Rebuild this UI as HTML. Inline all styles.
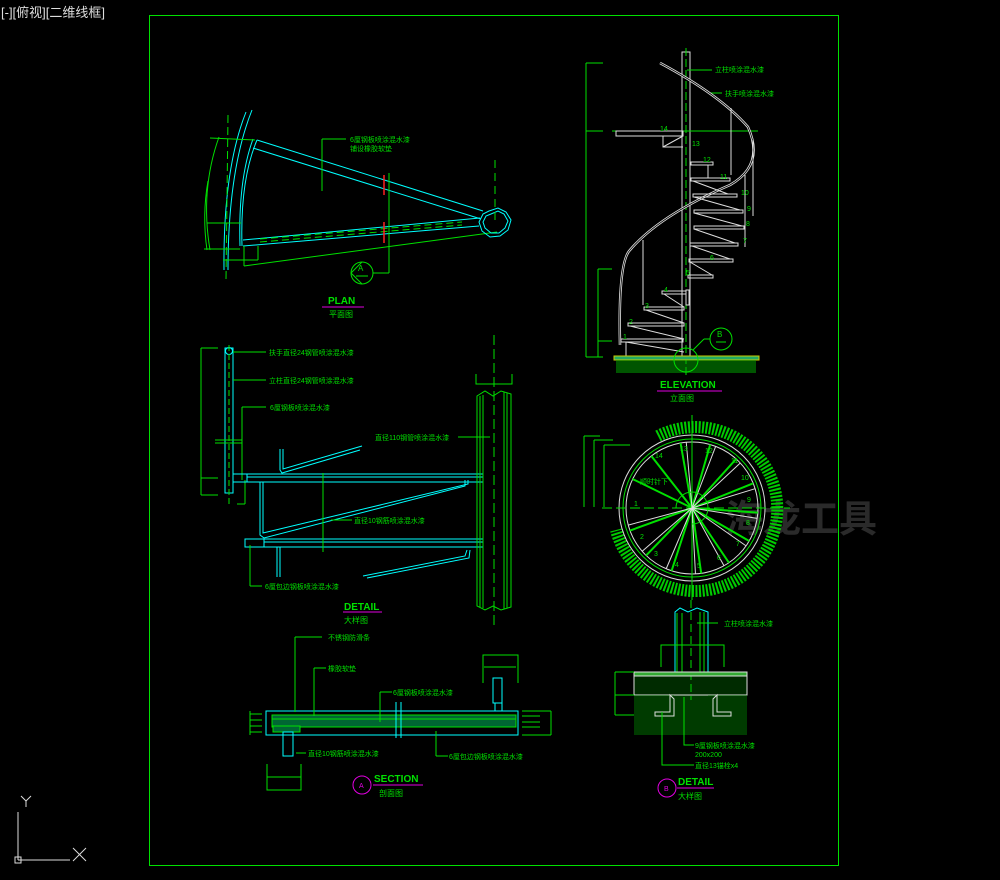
<!DOCTYPE html>
<html><head><meta charset="utf-8"><style>
html,body{margin:0;padding:0;background:#000;width:1000px;height:880px;overflow:hidden}
svg{display:block}
text{font-family:"Liberation Sans","Noto Sans CJK SC",sans-serif}
</style></head><body>
<svg width="1000" height="880" viewBox="0 0 1000 880" xmlns="http://www.w3.org/2000/svg">
<rect width="1000" height="880" fill="#000"/>
<text x="1" y="17" fill="#ddd" font-size="13">[-][俯视][二维线框]</text>
<rect x="149.5" y="15.5" width="689" height="850" fill="none" stroke="#00e000" stroke-width="1"/>
<!-- watermark -->
<text x="725" y="532" fill="#2a2a2a" font-size="38" font-weight="bold">海龙工具</text>

<!-- UCS icon -->
<g stroke="#ddd" stroke-width="1" fill="none">
<line x1="18" y1="812" x2="18" y2="860"/><line x1="18" y1="860" x2="70" y2="860"/>
<rect x="15" y="857" width="6" height="6"/>
<line x1="73" y1="848" x2="86" y2="861"/><line x1="86" y1="848" x2="73" y2="861"/>
<line x1="21" y1="796" x2="26" y2="801"/><line x1="31" y1="796" x2="26" y2="801"/><line x1="26" y1="801" x2="26" y2="807"/>
</g>

<!-- ============ PLAN ============ -->
<g fill="none" stroke-width="1">
<path d="M208,181 Q202,215 207,250" stroke="#00e000"/>
<path d="M219,137 Q200,190 210,250" stroke="#00e000"/>
<path d="M252,110 Q228,170 228,270" stroke="#00ffff"/>
<path d="M246,112 Q223,170 224,270" stroke="#00ffff"/>
<path d="M257,140 Q240,180 242,246" stroke="#00ffff"/>
<path d="M253,139 Q238,180 240,246" stroke="#00ffff"/>
<path d="M228,115 L226,280" stroke="#00e000" stroke-dasharray="8,4"/>
<line x1="257" y1="140" x2="483" y2="211" stroke="#00ffff"/>
<line x1="253" y1="148" x2="481" y2="219" stroke="#00ffff"/>
<line x1="243" y1="240" x2="480" y2="218" stroke="#00ffff"/>
<line x1="243" y1="246" x2="479" y2="226" stroke="#00ffff"/>
<line x1="260" y1="239" x2="462" y2="222" stroke="#00e000" stroke-dasharray="7,4"/>
<line x1="260" y1="242" x2="462" y2="225" stroke="#00e000" stroke-dasharray="7,4"/>
<line x1="204" y1="249" x2="240" y2="249" stroke="#00e000"/>
<line x1="207" y1="223" x2="241" y2="223" stroke="#00e000"/>
<line x1="207" y1="249" x2="226" y2="249" stroke="#00e000"/>
<line x1="244" y1="266" x2="497" y2="232" stroke="#00e000"/>
<line x1="244" y1="246" x2="244" y2="266" stroke="#00e000"/>
<line x1="223" y1="260" x2="258" y2="260" stroke="#00e000"/>
<line x1="258" y1="246" x2="258" y2="260" stroke="#00e000"/>
<line x1="210" y1="138" x2="255" y2="140" stroke="#00e000"/>
<polygon points="489,211 498,208 506,212 511,220 508,230 500,236 490,237 482,231 479,222 483,214" stroke="#00ffff"/>
<polygon points="491,214 498,211 504,214 508,221 505,228 499,233 491,233 485,228 483,222 486,216" stroke="#00ffff"/>
<line x1="495" y1="160" x2="495" y2="225" stroke="#00e000" stroke-dasharray="8,5"/>
<line x1="322" y1="139" x2="346" y2="139" stroke="#00e000"/>
<line x1="322" y1="139" x2="322" y2="191" stroke="#00e000"/>
<line x1="389" y1="173" x2="389" y2="273" stroke="#00e000"/>
<line x1="384" y1="175" x2="384" y2="195" stroke="#ff2020" stroke-width="1.5"/>
<line x1="384" y1="222" x2="384" y2="243" stroke="#ff2020" stroke-width="1.5"/>
<line x1="373" y1="273" x2="389" y2="273" stroke="#00e000"/>
<circle cx="362" cy="273" r="11" stroke="#00e000"/>
<path d="M351,273 L362,262 M351,273 L362,284" stroke="#00e000"/>
<line x1="356" y1="276" x2="368" y2="276" stroke="#00e000"/>
</g>
<text x="358" y="271" fill="#00e000" font-size="8">A</text>
<text x="350" y="142" fill="#00e000" font-size="7">6厘钢板喷涂混水漆</text>
<text x="350" y="151" fill="#00e000" font-size="7">铺设橡胶软垫</text>
<text x="328" y="304" fill="#00e000" font-size="10" font-weight="bold">PLAN</text>
<line x1="322" y1="307" x2="364" y2="307" stroke="#e000e0"/>
<text x="329" y="317" fill="#00e000" font-size="8">平面图</text>

<!-- ============ DETAIL (left) ============ -->
<g fill="none" stroke-width="1">
<line x1="201" y1="348" x2="201" y2="495" stroke="#00e000"/>
<line x1="201" y1="348" x2="218" y2="348" stroke="#00e000"/>
<line x1="201" y1="478" x2="218" y2="478" stroke="#00e000"/>
<line x1="201" y1="495" x2="218" y2="495" stroke="#00e000"/>
<rect x="225" y="348" width="8" height="145" stroke="#00ffff"/>
<circle cx="229" cy="351" r="3.5" stroke="#00ffff"/>
<line x1="229" y1="345" x2="229" y2="505" stroke="#00e000" stroke-dasharray="6,3"/>
<line x1="233" y1="352" x2="266" y2="352" stroke="#00e000"/>
<line x1="233" y1="380" x2="266" y2="380" stroke="#00e000"/>
<line x1="242" y1="407" x2="266" y2="407" stroke="#00e000"/>
<line x1="242" y1="407" x2="242" y2="480" stroke="#00e000"/>
<line x1="215" y1="440" x2="242" y2="440" stroke="#00e000"/>
<line x1="215" y1="443" x2="242" y2="443" stroke="#00e000"/>
<line x1="245" y1="480" x2="245" y2="504" stroke="#00e000"/>
<line x1="237" y1="504" x2="245" y2="504" stroke="#00e000"/>
<rect x="233" y="474" width="250" height="8" stroke="#00ffff"/>
<line x1="247" y1="474" x2="247" y2="482" stroke="#00ffff"/>
<line x1="247" y1="477" x2="483" y2="477" stroke="#00ffff"/>
<rect x="245" y="539" width="238" height="8" stroke="#00ffff"/>
<line x1="264" y1="539" x2="264" y2="547" stroke="#00ffff"/>
<line x1="264" y1="542" x2="483" y2="542" stroke="#00ffff"/>
<path d="M280,449 L280,470 L282,473 L360,450 M283,449 L283,469 L362,446" stroke="#00ffff"/>
<path d="M260,482 L260,535 L264,538 L465,486 L465,480 M263,482 L263,533 L468,484 L468,480" stroke="#00ffff"/>
<path d="M363,576 L465,556 L467,550 M367,578 L469,558 L470,550" stroke="#00ffff"/>
<path d="M277,547 L277,577 M280,547 L280,577" stroke="#00ffff"/>
<line x1="323" y1="473" x2="323" y2="552" stroke="#00e000"/>
<line x1="331" y1="520" x2="352" y2="520" stroke="#00e000"/>
<line x1="250" y1="545" x2="250" y2="586" stroke="#00e000"/>
<line x1="250" y1="586" x2="262" y2="586" stroke="#00e000"/>
<line x1="458" y1="437" x2="490" y2="437" stroke="#00e000"/>
<line x1="494" y1="335" x2="494" y2="625" stroke="#00e000" stroke-dasharray="10,4"/>
<path d="M476,374 L476,384 L512,384 L512,374" stroke="#00e000"/>
<path d="M477,396 L485,391 L493,396 L501,391 L511,394 L511,607 L501,610 L493,606 L485,610 L477,606 Z" stroke="#00e000"/>
<line x1="480" y1="396" x2="480" y2="607" stroke="#00e000"/>
<line x1="483" y1="395" x2="483" y2="608" stroke="#00e000"/>
<line x1="504" y1="392" x2="504" y2="609" stroke="#00e000"/>
<line x1="507" y1="393" x2="507" y2="608" stroke="#00e000"/>
</g>
<g fill="#00e000" font-size="7">
<text x="269" y="355">扶手直径24钢管喷涂混水漆</text>
<text x="269" y="383">立柱直径24钢管喷涂混水漆</text>
<text x="270" y="410">6厘钢板喷涂混水漆</text>
<text x="375" y="440">直径110钢管喷涂混水漆</text>
<text x="354" y="523">直径10钢筋喷涂混水漆</text>
<text x="265" y="589">6厘包边钢板喷涂混水漆</text>
</g>
<text x="344" y="610" fill="#00e000" font-size="10" font-weight="bold">DETAIL</text>
<line x1="343" y1="612" x2="382" y2="612" stroke="#e000e0"/>
<text x="344" y="623" fill="#00e000" font-size="8">大样图</text>

<!-- ============ SECTION ============ -->
<g fill="none" stroke-width="1">
<rect x="266" y="711" width="252" height="24" stroke="#00ffff"/>
<rect x="272" y="715" width="244" height="12" stroke="#00e000" fill="#063"/>
<rect x="272" y="719" width="244" height="8" stroke="#00e000"/>
<rect x="273" y="726" width="27" height="6" stroke="#00e000" fill="#063"/>
<rect x="283" y="732" width="10" height="24" stroke="#00ffff"/>
<rect x="493" y="678" width="9" height="25" stroke="#00ffff"/>
<rect x="495" y="703" width="7" height="8" stroke="#00ffff"/>
<line x1="396" y1="702" x2="396" y2="738" stroke="#00ffff"/>
<line x1="401" y1="702" x2="401" y2="738" stroke="#00ffff"/>
<path d="M250,711 L250,735 M250,714 L262,714 M250,720 L262,720 M250,726 L262,726 M250,732 L262,732" stroke="#00e000"/>
<path d="M551,711 L551,735 M522,711 L551,711 M522,716 L540,716 M522,722 L540,722 M522,727 L540,727 M522,735 L551,735" stroke="#00e000"/>
<path d="M267,764 L267,790 L301,790 L301,764 M267,777 L301,777" stroke="#00e000"/>
<path d="M483,683 L483,655 L518,655 L518,683 M484,667 L516,667" stroke="#00e000"/>
<line x1="295" y1="637" x2="295" y2="712" stroke="#00e000"/>
<line x1="295" y1="637" x2="322" y2="637" stroke="#00e000"/>
<line x1="314" y1="668" x2="314" y2="716" stroke="#00e000"/>
<line x1="314" y1="668" x2="326" y2="668" stroke="#00e000"/>
<line x1="380" y1="692" x2="380" y2="722" stroke="#00e000"/>
<line x1="380" y1="692" x2="392" y2="692" stroke="#00e000"/>
<line x1="296" y1="753" x2="306" y2="753" stroke="#00e000"/>
<line x1="436" y1="731" x2="436" y2="756" stroke="#00e000"/>
<line x1="436" y1="756" x2="448" y2="756" stroke="#00e000"/>
<circle cx="362" cy="785" r="9" stroke="#e000e0"/>
<line x1="373" y1="785" x2="423" y2="785" stroke="#e000e0"/>
</g>
<g fill="#00e000" font-size="7">
<text x="328" y="640">不锈钢防滑条</text>
<text x="328" y="671">橡胶软垫</text>
<text x="393" y="695">6厘钢板喷涂混水漆</text>
<text x="308" y="756">直径10钢筋喷涂混水漆</text>
<text x="449" y="759">6厘包边钢板喷涂混水漆</text>
</g>
<text x="359" y="788" fill="#e000e0" font-size="7">A</text>
<text x="374" y="782" fill="#00e000" font-size="10" font-weight="bold">SECTION</text>
<text x="379" y="796" fill="#00e000" font-size="8">剖面图</text>

<!-- ============ ELEVATION ============ -->
<g fill="none" stroke-width="1">
<path d="M586,63 L586,357 M586,63 L603,63 M586,131 L603,131 M586,357 L603,357" stroke="#00e000"/>
<path d="M598,269 L598,357 M598,269 L612,269 M598,341 L612,341" stroke="#00e000"/>
<rect x="682" y="52" width="8" height="305" stroke="#ddd"/>
<line x1="686" y1="48" x2="686" y2="375" stroke="#00e000" stroke-dasharray="8,3"/>
<line x1="687" y1="70" x2="712" y2="70" stroke="#00e000"/>
<line x1="710" y1="93" x2="722" y2="93" stroke="#00e000"/>
<line x1="612" y1="131" x2="758" y2="131" stroke="#00e000"/>
<path d="M660,63 Q720,95 748,127 Q765,165 730,185 Q660,215 630,250 Q618,262 620,345" stroke="#ddd" stroke-width="2.5"/>
<path d="M660,63 Q720,95 748,127 Q765,165 730,185 Q660,215 630,250 Q618,262 620,345" stroke="#000" stroke-width="0.8"/>
<rect x="616" y="131" width="67" height="5" stroke="#ddd"/>
<path d="M663,136 L663,147 L683,147 M663,147 L683,136" stroke="#ddd"/>
<line x1="682" y1="92" x2="682" y2="131" stroke="#ddd"/>
<line x1="731" y1="108" x2="731" y2="175" stroke="#ddd"/>
<line x1="753" y1="140" x2="753" y2="216" stroke="#ddd"/>
<line x1="745" y1="175" x2="745" y2="247" stroke="#ddd"/>
<line x1="643" y1="240" x2="643" y2="305" stroke="#ddd"/>
<g stroke="#ddd">
<rect x="691" y="162" width="22" height="3"/><line x1="708" y1="165" x2="708" y2="178"/>
<rect x="691" y="178" width="39" height="3"/>
<rect x="693" y="194" width="44" height="3"/><line x1="693" y1="181" x2="728" y2="194"/>
<rect x="694" y="210" width="49" height="3"/><line x1="694" y1="197" x2="740" y2="210"/>
<rect x="694" y="226" width="50" height="3"/><line x1="694" y1="213" x2="742" y2="226"/>
<rect x="690" y="243" width="48" height="3"/><line x1="694" y1="229" x2="735" y2="243"/>
<rect x="689" y="259" width="44" height="3"/><line x1="692" y1="246" x2="730" y2="259"/>
<rect x="688" y="275" width="25" height="3"/><line x1="690" y1="262" x2="712" y2="275"/>
<rect x="686" y="290" width="3" height="15"/>
<rect x="662" y="291" width="24" height="3"/>
<rect x="644" y="307" width="40" height="3"/><line x1="664" y1="294" x2="684" y2="307"/>
<rect x="628" y="323" width="56" height="3"/><line x1="646" y1="310" x2="684" y2="323"/>
<rect x="621" y="339" width="62" height="3"/><line x1="630" y1="326" x2="684" y2="339"/>
<line x1="626" y1="342" x2="684" y2="352"/><line x1="626" y1="342" x2="626" y2="357"/>
</g>
<rect x="614" y="356" width="145" height="4" fill="#2a6" stroke="#cccc00"/>
<rect x="616" y="360" width="140" height="13" fill="#0a0" opacity="0.5"/>
<circle cx="686" cy="360" r="12" stroke="#00e000"/>
<circle cx="721" cy="339" r="11" stroke="#00e000"/>
<line x1="704" y1="339" x2="710" y2="339" stroke="#00e000"/>
<line x1="693" y1="350" x2="704" y2="339" stroke="#00e000"/>
<line x1="716" y1="342" x2="726" y2="342" stroke="#00e000"/>
</g>
<text x="717" y="337" fill="#00e000" font-size="8">B</text>
<g fill="#00e000" font-size="7">
<text x="715" y="72">立柱喷涂混水漆</text>
<text x="725" y="96">扶手喷涂混水漆</text>
<text x="660" y="131">14</text><text x="692" y="146">13</text><text x="703" y="162">12</text>
<text x="720" y="179">11</text><text x="741" y="195">10</text><text x="747" y="211">9</text>
<text x="746" y="226">8</text><text x="743" y="243">7</text><text x="710" y="260">6</text>
<text x="686" y="275">5</text><text x="664" y="292">4</text><text x="645" y="308">3</text>
<text x="629" y="324">2</text><text x="623" y="339">1</text>
</g>
<text x="660" y="388" fill="#00e000" font-size="10" font-weight="bold">ELEVATION</text>
<line x1="657" y1="391" x2="722" y2="391" stroke="#e000e0"/>
<text x="670" y="401" fill="#00e000" font-size="8">立面图</text>

<!-- ============ CIRCLE PLAN ============ -->
<g fill="none" stroke-width="1">
<path d="M584,436 L584,507 M584,436 L600,436 M594,440 L594,507 M594,440 L613,440 M604,445 L604,507 M604,445 L630,445" stroke="#00e000"/>
<path d="M658,436 A82,82 0 1 1 616,530" stroke="#00cc00" stroke-width="12" stroke-dasharray="2,1.5"/>
<circle cx="692" cy="508" r="73" stroke="#ddd"/>
<circle cx="692" cy="508" r="69" stroke="#00e000"/>
<circle cx="692" cy="508" r="66" stroke="#ddd"/>
<line x1="602" y1="508" x2="790" y2="508" stroke="#00e000" stroke-dasharray="10,4"/>
<line x1="692" y1="415" x2="692" y2="600" stroke="#00e000"/>
<g stroke="#00e000" stroke-width="2">
<line x1="692" y1="508" x2="758" y2="508" transform="rotate(-100 692 508)"/>
<line x1="692" y1="508" x2="758" y2="508" transform="rotate(-74 692 508)"/>
<line x1="692" y1="508" x2="758" y2="508" transform="rotate(-48 692 508)"/>
<line x1="692" y1="508" x2="758" y2="508" transform="rotate(-22 692 508)"/>
<line x1="692" y1="508" x2="758" y2="508" transform="rotate(4 692 508)"/>
<line x1="692" y1="508" x2="758" y2="508" transform="rotate(30 692 508)"/>
<line x1="692" y1="508" x2="758" y2="508" transform="rotate(56 692 508)"/>
<line x1="692" y1="508" x2="758" y2="508" transform="rotate(82 692 508)"/>
<line x1="692" y1="508" x2="758" y2="508" transform="rotate(108 692 508)"/>
<line x1="692" y1="508" x2="758" y2="508" transform="rotate(134 692 508)"/>
<line x1="692" y1="508" x2="758" y2="508" transform="rotate(160 692 508)"/>
<line x1="692" y1="508" x2="758" y2="508" transform="rotate(-154 692 508)"/>
<line x1="692" y1="508" x2="758" y2="508" transform="rotate(-128 692 508)"/>
</g>
<g stroke="#ddd">
<line x1="692" y1="508" x2="758" y2="508" transform="rotate(-95 692 508)"/>
<line x1="692" y1="508" x2="758" y2="508" transform="rotate(-69 692 508)"/>
<line x1="692" y1="508" x2="758" y2="508" transform="rotate(-43 692 508)"/>
<line x1="692" y1="508" x2="758" y2="508" transform="rotate(-17 692 508)"/>
<line x1="692" y1="508" x2="758" y2="508" transform="rotate(9 692 508)"/>
<line x1="692" y1="508" x2="758" y2="508" transform="rotate(35 692 508)"/>
<line x1="692" y1="508" x2="758" y2="508" transform="rotate(61 692 508)"/>
<line x1="692" y1="508" x2="758" y2="508" transform="rotate(87 692 508)"/>
<line x1="692" y1="508" x2="758" y2="508" transform="rotate(113 692 508)"/>
<line x1="692" y1="508" x2="758" y2="508" transform="rotate(139 692 508)"/>
<line x1="692" y1="508" x2="758" y2="508" transform="rotate(165 692 508)"/>
</g>
<path d="M676,508 A16,16 0 1 1 692,524" stroke="#00e000"/>
</g>
<g fill="#00e000" font-size="7">
<text x="640" y="484">顺时针下</text>
<text x="634" y="506">1</text><text x="640" y="539">2</text><text x="654" y="556">3</text>
<text x="675" y="567">4</text><text x="697" y="568">5</text><text x="717" y="560">6</text>
<text x="736" y="546">7</text><text x="746" y="525">8</text><text x="747" y="502">9</text>
<text x="741" y="480">10</text><text x="731" y="463">11</text><text x="705" y="453">12</text>
<text x="680" y="451">13</text><text x="655" y="458">14</text>
</g>

<!-- ============ DETAIL B ============ -->
<g fill="none" stroke-width="1">
<path d="M675,612 L680,608 L688,612 L697,608 L708,612 L708,672 L675,672 Z" stroke="#00ffff"/>
<line x1="677" y1="613" x2="677" y2="672" stroke="#00e000"/>
<line x1="682" y1="613" x2="682" y2="672" stroke="#00e000"/>
<line x1="700" y1="612" x2="700" y2="672" stroke="#00e000"/>
<line x1="704" y1="612" x2="704" y2="672" stroke="#00e000"/>
<line x1="691" y1="600" x2="691" y2="700" stroke="#00e000" stroke-dasharray="8,4"/>
<line x1="697" y1="623" x2="718" y2="623" stroke="#00e000"/>
<path d="M661,667 L661,645 L724,645 L724,667" stroke="#00e000"/>
<rect x="634" y="672" width="113" height="4" fill="#3a3" stroke="#ddd"/>
<rect x="634" y="676" width="113" height="19" fill="#0a0" fill-opacity="0.25" stroke="#ddd"/>
<rect x="634" y="695" width="113" height="40" fill="#0a0" fill-opacity="0.35" stroke="none"/>
<path d="M615,672 L634,672 M615,695 L634,695 M615,715 L634,715 M615,672 L615,715" stroke="#00e000"/>
<path d="M670,695 L670,712 L655,712 L655,716 L674,716 L674,699 Z" stroke="#ddd"/>
<path d="M717,695 L717,712 L731,712 L731,716 L713,716 L713,699 Z" stroke="#ddd"/>
<path d="M674,695 L708,695" stroke="#ddd"/>
<path d="M684,697 L684,745 L694,745 M662,712 L662,765 L694,765" stroke="#00e000"/>
<circle cx="667" cy="788" r="9" stroke="#e000e0"/>
<line x1="677" y1="788" x2="714" y2="788" stroke="#e000e0"/>
</g>
<g fill="#00e000" font-size="7">
<text x="724" y="626">立柱喷涂混水漆</text>
<text x="695" y="748">9厘钢板喷涂混水漆</text>
<text x="695" y="757">200x200</text>
<text x="695" y="768">直径13锚栓x4</text>
</g>
<text x="664" y="791" fill="#e000e0" font-size="7">B</text>
<text x="678" y="785" fill="#00e000" font-size="10" font-weight="bold">DETAIL</text>
<text x="678" y="799" fill="#00e000" font-size="8">大样图</text>
</svg>
</body></html>
